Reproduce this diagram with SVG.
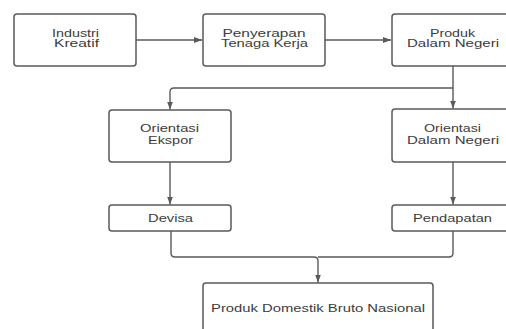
<svg xmlns="http://www.w3.org/2000/svg" width="506" height="329" viewBox="0 0 506 329">
<defs>
<style>
.box{fill:#fff;stroke:#5a5a5a;stroke-width:1.5}
.lbl{font-family:"Liberation Sans",Arial,sans-serif;font-size:10.5px;fill:#3c3c3c;text-anchor:middle}
.con{fill:none;stroke:#5a5a5a;stroke-width:1.4}
</style>
<marker id="ah" viewBox="0 0 8 8" refX="8" refY="4" markerWidth="8" markerHeight="8" markerUnits="userSpaceOnUse" orient="auto">
<path d="M0,1 L8,4 L0,7 Z" fill="#5a5a5a"/>
</marker>
</defs>
<rect width="506" height="329" fill="#fff"/>
<g id="connectors">
<path class="con" d="M136,40 H202" marker-end="url(#ah)"/>
<path class="con" d="M325,40 H391" marker-end="url(#ah)"/>
<path class="con" d="M453,66 V108.5" marker-end="url(#ah)"/>
<path class="con" d="M453,88 H174 Q170,88 170,92 V109.5" marker-end="url(#ah)"/>
<path class="con" d="M170,162 V204.5" marker-end="url(#ah)"/>
<path class="con" d="M453,162 V204.5" marker-end="url(#ah)"/>
<path class="con" d="M171,231 V253 Q171,257 175,257 H314 Q318,257 318,261 V282.5" marker-end="url(#ah)"/>
<path class="con" d="M453,231 V253 Q453,257 449,257 H318"/>
</g>
<g id="n1">
<rect class="box" x="14" y="14" width="122" height="52" rx="3"/>
<text class="lbl" x="75.5" y="36.5" textLength="47" lengthAdjust="spacingAndGlyphs">Industri</text>
<text class="lbl" x="76.5" y="47" textLength="45" lengthAdjust="spacingAndGlyphs">Kreatif</text>
</g>
<g id="n2">
<rect class="box" x="203" y="14" width="122" height="52" rx="3"/>
<text class="lbl" x="264" y="36.5" textLength="83" lengthAdjust="spacingAndGlyphs">Penyerapan</text>
<text class="lbl" x="264.5" y="47" textLength="87" lengthAdjust="spacingAndGlyphs">Tenaga Kerja</text>
</g>
<g id="n3">
<rect class="box" x="392" y="14" width="122" height="52" rx="3"/>
<text class="lbl" x="452.5" y="36.5" textLength="45" lengthAdjust="spacingAndGlyphs">Produk</text>
<text class="lbl" x="453" y="47" textLength="92" lengthAdjust="spacingAndGlyphs">Dalam Negeri</text>
</g>
<g id="n4">
<rect class="box" x="109" y="110" width="122" height="52" rx="3"/>
<text class="lbl" x="169.5" y="132" textLength="59" lengthAdjust="spacingAndGlyphs">Orientasi</text>
<text class="lbl" x="170.5" y="143.5" textLength="45" lengthAdjust="spacingAndGlyphs">Ekspor</text>
</g>
<g id="n5">
<rect class="box" x="392" y="109" width="122" height="53" rx="3"/>
<text class="lbl" x="452.5" y="132" textLength="57" lengthAdjust="spacingAndGlyphs">Orientasi</text>
<text class="lbl" x="453" y="143.5" textLength="92" lengthAdjust="spacingAndGlyphs">Dalam Negeri</text>
</g>
<g id="n6">
<rect class="box" x="109" y="205" width="122" height="26" rx="3"/>
<text class="lbl" x="170.5" y="221.5" textLength="45" lengthAdjust="spacingAndGlyphs">Devisa</text>
</g>
<g id="n7">
<rect class="box" x="392" y="205" width="122" height="26" rx="3"/>
<text class="lbl" x="452.5" y="221.5" textLength="79" lengthAdjust="spacingAndGlyphs">Pendapatan</text>
</g>
<g id="n8">
<rect class="box" x="203" y="283" width="230" height="60" rx="3"/>
<text class="lbl" x="318" y="312" textLength="214" lengthAdjust="spacingAndGlyphs">Produk Domestik Bruto Nasional</text>
</g>
</svg>
